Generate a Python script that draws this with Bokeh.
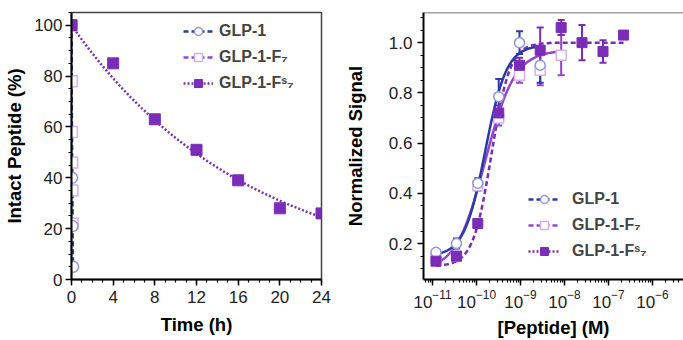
import numpy as np
from bokeh.plotting import figure
from bokeh.models import (Range1d, Legend, LegendItem, Whisker, TeeHead, Span,
                          ColumnDataSource, FixedTicker, PrintfTickFormatter, LogTickFormatter)
from bokeh.layouts import row
from bokeh.embed import file_html
from bokeh.resources import INLINE

# ---------------- data: stability (left) ----------------
glp1_time = [0.0, 0.05, 0.1, 0.15]
glp1_intact = [100, 40, 21, 5]
f7_time = [0.0, 0.02, 0.04, 0.06, 0.08, 0.1]
f7_intact = [100, 78, 58, 46, 35, 22]
fs7_time = [0, 4, 8, 12, 16, 20, 24]
fs7_intact = [100, 85, 63, 51, 39, 28, 26]
time_ticks = [0, 4, 8, 12, 16, 20, 24]
pct_ticks = [0, 20, 40, 60, 80, 100]

# ---------------- data: activity (right) ----------------
conc = [1.2e-11, 3.5e-11, 1.07e-10, 3.2e-10, 9.5e-10, 2.8e-9, 8.4e-9, 2.5e-8, 7.5e-8, 2.2e-7]
glp1_sig = [0.165, 0.20, 0.44, 0.785, 1.00, 0.91]
glp1_err = [0.01, 0.02, 0.02, 0.07, 0.045, 0.07]
f7_sig = [0.14, 0.15, 0.43, 0.70, 0.87, 0.89, 0.95]
f7_err = [0.01, 0.01, 0.02, 0.03, 0.03, 0.06, 0.08]
fs7_sig = [0.13, 0.15, 0.28, 0.72, 0.91, 0.97, 1.06, 1.00, 0.965, 1.03]
fs7_err = [0.01, 0.01, 0.01, 0.03, 0.03, 0.09, 0.03, 0.07, 0.045, 0.01]
# 4-parameter logistic fit parameters (bottom, top, logEC50, hill)
glp1_fit = (0.15, 0.99, -9.80, 1.8)
f7_fit = (0.09, 0.97, -9.80, 1.3)
fs7_fit = (0.11, 1.00, -9.66, 2.06)
log_ticks = [1e-11, 1e-10, 1e-9, 1e-8, 1e-7, 1e-6]
sig_ticks = [0.2, 0.4, 0.6, 0.8, 1.0]

# ---------------- styles ----------------
FONT = "Liberation Sans"
C_BLUE = "#2B3AA6"
C_BLUE_MK = "#8E98DE"
C_PURP = "#9345CB"
C_LAV = "#D3B2EE"
C_FS7 = "#7A2DB6"


def style_axes(p):
    p.grid.visible = False
    for ax in p.axis:
        ax.axis_line_color = "black"
        ax.axis_line_width = 2
        ax.major_tick_line_color = "black"
        ax.major_tick_line_width = 1.5
        ax.minor_tick_line_color = "black"
        ax.minor_tick_line_width = 1.2
        ax.major_tick_in = 0
        ax.major_tick_out = 6
        ax.minor_tick_in = 0
        ax.minor_tick_out = 3
        ax.major_label_text_font = FONT
        ax.major_label_text_font_size = "17px"
        ax.major_label_text_color = "#222222"
        ax.axis_label_text_font = FONT
        ax.axis_label_text_font_size = "18.5px"
        ax.axis_label_text_font_style = "bold"
        ax.axis_label_text_color = "black"


# ======================= LEFT PANEL =======================
p1 = figure(width=340, height=340, x_range=Range1d(0, 24), y_range=Range1d(0, 105),
            output_backend="svg", toolbar_location=None,
            min_border_left=71, min_border_right=19, min_border_top=12, min_border_bottom=60)
p1.outline_line_color = "#444444"
p1.outline_line_width = 1.5
style_axes(p1)
p1.xaxis.ticker = FixedTicker(ticks=time_ticks, minor_ticks=list(range(0, 25)))
p1.yaxis.ticker = FixedTicker(ticks=pct_ticks, minor_ticks=list(range(0, 106, 5)))
p1.xaxis.axis_label = "Time (h)"
p1.yaxis.axis_label = "Intact Peptide (%)"
p1.yaxis.major_label_standoff = 3
p1.yaxis.axis_label_standoff = 6
p1.xaxis.major_label_standoff = 5
p1.xaxis.axis_label_standoff = 8

# first-order decay fit derived from the FS7 data
t_arr = np.array(fs7_time, dtype=float)
k_fit = float(np.sum(t_arr * -np.log(np.array(fs7_intact) / 100.0)) / np.sum(t_arr ** 2))
tt = np.linspace(0, 24, 200)
fit_l = p1.line(tt, 100 * np.exp(-k_fit * tt), line_color=C_FS7, line_width=2.5, line_dash="2 2")

f7_l = p1.line(f7_time, f7_intact, line_color=C_PURP, line_width=2.5, line_dash="5 3")
glp1_l = p1.line(glp1_time, glp1_intact, line_color=C_BLUE, line_width=2.5, line_dash="5 3")
f7_s = p1.scatter(f7_time, f7_intact, marker="square", size=11, fill_color="white",
                  line_color=C_LAV, line_width=1.5)
glp1_s = p1.scatter(glp1_time, glp1_intact, marker="circle", size=11, fill_color="white",
                    line_color=C_BLUE_MK, line_width=1.5)
fs7_s = p1.scatter(fs7_time, fs7_intact, marker="square", size=11, fill_color=C_FS7,
                   line_color=C_FS7)

leg1 = Legend(items=[
    LegendItem(label="GLP-1", renderers=[glp1_l, glp1_s]),
    LegendItem(label="GLP-1-F\u2087", renderers=[f7_l, f7_s]),
    LegendItem(label="GLP-1-F\u02e2\u2087", renderers=[fit_l, fs7_s]),
], location=(112, 186), padding=0, margin=0, spacing=6, glyph_height=20, glyph_width=30,
    label_height=20, label_standoff=6, border_line_color=None, background_fill_alpha=0,
    label_text_font=FONT, label_text_font_size="16px", label_text_font_style="bold")
p1.add_layout(leg1)

# ======================= RIGHT PANEL =======================
p2 = figure(width=343, height=340, x_axis_type="log",
            x_range=Range1d(10 ** -11.205, 10 ** -5.295), y_range=Range1d(0.057, 1.12),
            output_backend="svg", toolbar_location=None,
            min_border_left=83, min_border_right=0, min_border_top=12, min_border_bottom=60)
p2.outline_line_color = None
p2.add_layout(Span(location=1.12, dimension="width", line_color="#444444", line_width=1.5))
style_axes(p2)
minor_log = [k * 10.0 ** n for n in range(-12, -5) for k in range(1, 10)]
p2.xaxis.ticker = FixedTicker(ticks=log_ticks, minor_ticks=minor_log)
p2.xaxis.formatter = LogTickFormatter()
p2.yaxis.ticker = FixedTicker(ticks=sig_ticks, minor_ticks=[round(0.1 + 0.05 * i, 2) for i in range(21)])
p2.yaxis.formatter = PrintfTickFormatter(format="%.1f")
p2.xaxis.axis_label = "[Peptide] (M)"
p2.yaxis.axis_label = "Normalized Signal"
p2.yaxis.major_label_standoff = 5
p2.yaxis.axis_label_standoff = 20
p2.xaxis.major_label_standoff = 4
p2.xaxis.axis_label_standoff = 6


def logistic(params, x):
    b, t, lec, h = params
    return b + (t - b) / (1 + 10 ** (h * (lec - np.log10(x))))


def curve(params, n):
    xs = np.logspace(np.log10(conc[0]), np.log10(conc[n - 1]), 200)
    return xs, logistic(params, xs)


def whiskers(p, xs, ys, es, color):
    src = ColumnDataSource(dict(x=xs, lo=[y - e for y, e in zip(ys, es)],
                                hi=[y + e for y, e in zip(ys, es)]))
    p.add_layout(Whisker(source=src, base="x", lower="lo", upper="hi", dimension="height",
                         line_color=color, line_width=2,
                         upper_head=TeeHead(size=7, line_color=color, line_width=2),
                         lower_head=TeeHead(size=7, line_color=color, line_width=2)))


whiskers(p2, conc[:len(f7_sig)], f7_sig, f7_err, C_PURP)
whiskers(p2, conc[:len(glp1_sig)], glp1_sig, glp1_err, C_BLUE)
whiskers(p2, conc, fs7_sig, fs7_err, C_FS7)

x, y = curve(fs7_fit, len(fs7_sig))
p2.line(x, y, line_color=C_FS7, line_width=2.5, line_dash="5 3")
x, y = curve(f7_fit, len(f7_sig))
p2.line(x, y, line_color=C_PURP, line_width=2.5)
x, y = curve(glp1_fit, len(glp1_sig))
p2.line(x, y, line_color=C_BLUE, line_width=2.5)

f7_s2 = p2.scatter(conc[:len(f7_sig)], f7_sig, marker="square", size=10, fill_color="white",
                   line_color=C_LAV, line_width=1.5)
glp1_s2 = p2.scatter(conc[:len(glp1_sig)], glp1_sig, marker="circle", size=10, fill_color="white",
                     line_color=C_BLUE_MK, line_width=1.5)
fs7_s2 = p2.scatter(conc, fs7_sig, marker="square", size=10, fill_color=C_FS7, line_color=C_FS7)


# legend-only line styles (a single undefined point: nothing is drawn in the plot)
def legend_line(color, dash):
    src = ColumnDataSource(dict(x=conc[:1], y=[float("nan")]))
    return p2.line(x="x", y="y", source=src, line_color=color, line_width=2.5, line_dash=dash)


lg_glp1 = legend_line(C_BLUE, "5 3")
lg_f7 = legend_line(C_PURP, "5 3")
lg_fs7 = legend_line(C_FS7, "2 2")

leg2 = Legend(items=[
    LegendItem(label="GLP-1", renderers=[lg_glp1, glp1_s2]),
    LegendItem(label="GLP-1-F\u2087", renderers=[lg_f7, f7_s2]),
    LegendItem(label="GLP-1-F\u02e2\u2087", renderers=[lg_fs7, fs7_s2]),
], location=(105, 18), padding=0, margin=0, spacing=6, glyph_height=20, glyph_width=32,
    label_height=20, label_standoff=12, border_line_color=None, background_fill_alpha=0,
    label_text_font=FONT, label_text_font_size="16px", label_text_font_style="bold")
p2.add_layout(leg2)

layout = row(p1, p2)
open("out.html", "w").write(file_html(layout, INLINE))
